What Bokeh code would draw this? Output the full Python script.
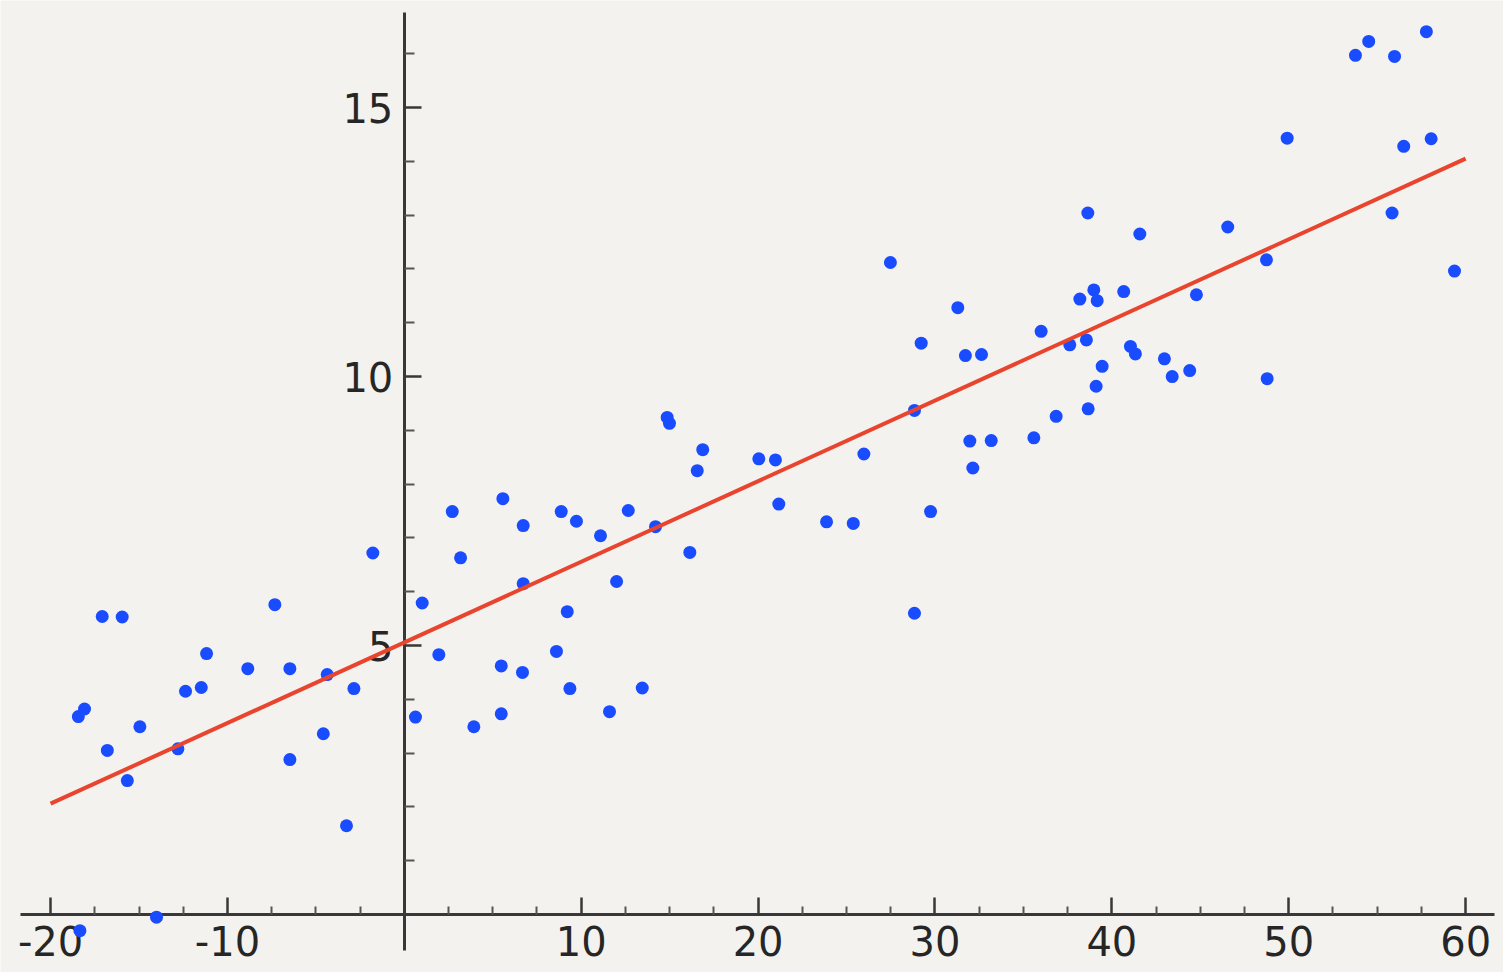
import numpy as np
from bokeh.plotting import figure
from bokeh.models import LinearAxis, FixedTicker, ColumnDataSource
from bokeh.embed import file_html
from bokeh.resources import INLINE

# Scatter data
xs = [-1.78, 1.01, -17.08, -15.95, -7.32, -11.18, -8.85, -6.47, -4.36, -12.37,
      -11.48, -2.85, -18.43, -18.08, 0.63, -14.95, -4.58, -16.79, -12.80, -6.47,
      -15.66, -3.27, -14.01, -18.34,
      5.57, 2.71, 8.87, 12.66, 6.72, 9.73, 11.09, 14.20, 3.18, 16.14,
      6.72, 12.00, 9.21, 1.95, 8.60, 5.48, 6.68, 9.36, 13.45, 5.48, 11.60, 3.93,
      27.48, 29.22, 14.86, 14.99, 16.87, 16.56, 20.04, 20.98, 28.84, 25.98,
      21.17, 23.87, 25.38, 29.75,
      38.64, 41.58, 31.29, 38.19, 38.98, 39.17, 40.67, 44.78, 36.00, 31.72,
      32.63, 37.62, 38.56, 41.05, 41.33, 42.97, 43.41, 44.40, 39.45, 39.11,
      38.66, 36.85, 31.97, 33.18, 35.59, 32.14, 28.84,
      57.78, 54.52, 53.77, 55.98, 49.91, 56.50, 58.05, 46.55, 55.84, 48.74,
      59.37, 48.78]
ys = [6.72, 5.79, 5.54, 5.53, 5.76, 4.85, 4.57, 4.57, 4.46, 4.15,
      4.22, 4.20, 3.68, 3.82, 3.67, 3.49, 3.36, 3.05, 3.08, 2.88,
      2.49, 1.65, -0.05, -0.30,
      7.73, 7.49, 7.49, 7.51, 7.23, 7.31, 7.04, 7.21, 6.63, 6.73,
      6.15, 6.19, 5.63, 4.83, 4.89, 4.62, 4.50, 4.20, 4.21, 3.73, 3.77, 3.49,
      12.12, 10.62, 9.24, 9.13, 8.64, 8.25, 8.47, 8.45, 9.37, 8.56,
      7.63, 7.30, 7.27, 7.49,
      13.04, 12.65, 11.28, 11.44, 11.61, 11.41, 11.58, 11.52, 10.84, 10.39,
      10.41, 10.59, 10.68, 10.56, 10.42, 10.33, 10.00, 10.11, 10.19, 9.82,
      9.40, 9.26, 8.80, 8.81, 8.86, 8.30, 5.60,
      16.41, 16.23, 15.97, 15.95, 14.43, 14.28, 14.42, 12.78, 13.04, 12.17,
      11.96, 9.96]

# Fitted line end points
line_x = [-20, 60]
line_y = [2.06, 14.05]

# Tick values
x_ticks = [-20, -10, 10, 20, 30, 40, 50, 60]
y_ticks = [5, 10, 15]
x_minor = [v for v in np.arange(-20, 61, 2.5).tolist() if v % 10 != 0]
y_minor = [v for v in range(0, 17) if v % 5 != 0]

# Axis line extents
x_axis_bounds = (-21.7, 61.63)
y_axis_bounds = (-0.67, 16.77)

BG = "#f4f2ee"
p = figure(width=1503, height=972, x_range=(-22.83, 62.14), y_range=(-1.078, 16.99),
           output_backend="svg", toolbar_location=None,
           x_axis_location=None, y_axis_location=None,
           background_fill_color=BG, border_fill_color=BG,
           min_border=0)
p.outline_line_color = None
p.grid.visible = False

def style(ax, tick_in, minor_in, bounds):
    ax.fixed_location = 0
    ax.bounds = bounds
    ax.level = "underlay"
    ax.axis_line_color = "#383838"
    ax.axis_line_width = 3
    ax.major_tick_line_color = "#383838"
    ax.major_tick_line_width = 2.5
    ax.minor_tick_line_color = "#555555"
    ax.minor_tick_line_width = 2
    ax.major_tick_in = tick_in
    ax.major_tick_out = 0
    ax.minor_tick_in = minor_in
    ax.minor_tick_out = 0
    ax.major_label_text_font = "DejaVu Sans"
    ax.major_label_text_font_size = "40px"
    ax.major_label_text_color = "#262626"
    ax.major_label_standoff = 11

xaxis = LinearAxis(ticker=FixedTicker(ticks=x_ticks, minor_ticks=x_minor))
style(xaxis, 17, 8, x_axis_bounds)
xaxis.major_label_overrides = {t: str(t) for t in x_ticks}
yaxis = LinearAxis(ticker=FixedTicker(ticks=y_ticks, minor_ticks=y_minor))
style(yaxis, 17, 10, y_axis_bounds)
p.add_layout(xaxis, "below")
p.add_layout(yaxis, "left")

src = ColumnDataSource(dict(x=xs, y=ys))
p.scatter("x", "y", source=src, size=13, color="#1a4cff", line_color=None)
p.line(line_x, line_y, line_color="#e8442e", line_width=4)

open("out.html", "w").write(file_html(p, INLINE))
